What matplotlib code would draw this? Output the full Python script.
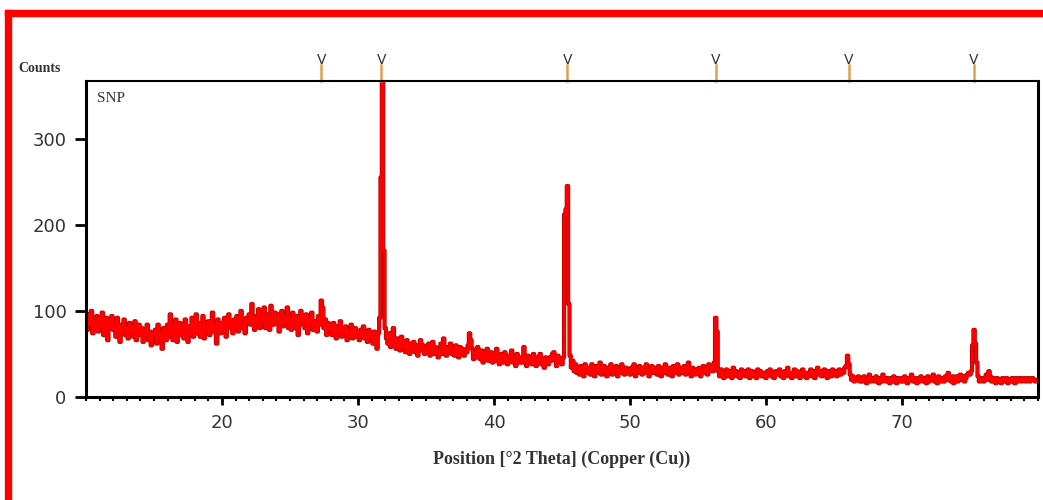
import numpy as np
import matplotlib
matplotlib.use("Agg")
import matplotlib.pyplot as plt
from matplotlib.patches import Rectangle
from matplotlib.ticker import MultipleLocator

# counts, 0.1 deg step, one row = 1 deg (10.0 .. 10.9 etc)
counts = [
    92, 78, 96, 84, 100, 74, 88, 80, 94, 76,     # 10
    90, 84, 98, 72, 86, 92, 66, 88, 80, 94,      # 11
    78, 86, 70, 92, 82, 64, 84, 76, 90, 72,      # 12
    80, 68, 86, 74, 82, 70, 88, 66, 78, 84,      # 13
    72, 80, 64, 78, 70, 84, 66, 76, 60, 74,      # 14
    70, 78, 62, 84, 68, 74, 56, 80, 72, 66,      # 15
    84, 70, 96, 74, 66, 82, 90, 64, 78, 86,      # 16
    72, 84, 68, 90, 76, 64, 82, 74, 92, 70,      # 17
    80, 96, 74, 86, 70, 82, 94, 68, 84, 76,      # 18
    88, 72, 82, 98, 76, 84, 62, 90, 80, 74,      # 19
    86, 78, 92, 70, 84, 96, 80, 88, 74, 90,      # 20
    82, 94, 76, 88, 100, 80, 90, 74, 92, 86,     # 21
    96, 84, 108, 88, 78, 94, 86, 102, 80, 92,    # 22
    88, 104, 80, 96, 90, 78, 106, 92, 84, 98,    # 23
    86, 96, 76, 92, 100, 82, 94, 88, 104, 80,    # 24
    90, 78, 98, 86, 80, 94, 72, 88, 100, 84,     # 25
    92, 80, 96, 74, 90, 84, 98, 78, 88, 82,      # 26
    76, 94, 84, 112, 104, 80, 90, 72, 86, 80,    # 27
    84, 72, 86, 78, 68, 82, 76, 88, 70, 80,      # 28
    74, 82, 66, 78, 72, 84, 68, 76, 80, 70,      # 29
    76, 66, 78, 72, 82, 68, 74, 64, 78, 70,      # 30
    72, 62, 76, 68, 56, 74, 92, 255, 380, 170,   # 31
    80, 68, 62, 74, 58, 66, 80, 60, 56, 68,      # 32
    62, 54, 70, 58, 64, 52, 66, 58, 50, 62,      # 33
    56, 64, 52, 60, 48, 58, 66, 54, 60, 50,      # 34
    58, 52, 62, 48, 56, 64, 50, 58, 54, 46,      # 35
    54, 62, 50, 68, 56, 48, 58, 52, 62, 50,      # 36
    56, 48, 60, 52, 46, 58, 50, 56, 48, 54,      # 37
    52, 60, 74, 66, 56, 44, 52, 46, 58, 50,      # 38
    44, 54, 40, 50, 46, 56, 42, 48, 52, 40,      # 39
    48, 42, 56, 44, 38, 50, 46, 40, 52, 44,      # 40
    38, 48, 42, 54, 40, 46, 36, 50, 44, 40,      # 41
    46, 40, 58, 42, 36, 48, 40, 44, 38, 50,      # 42
    42, 36, 46, 40, 50, 38, 44, 34, 46, 40,      # 43
    38, 46, 42, 50, 52, 44, 36, 48, 40, 44,      # 44
    38, 46, 212, 218, 245, 108, 48, 34, 42, 30,  # 45
    38, 28, 34, 26, 36, 30, 24, 38, 32, 28,      # 46
    34, 26, 38, 30, 24, 36, 28, 32, 40, 26,      # 47
    32, 36, 28, 24, 34, 30, 38, 26, 32, 28,      # 48
    36, 24, 32, 28, 38, 30, 26, 34, 28, 32,      # 49
    26, 34, 30, 38, 24, 32, 28, 36, 30, 26,      # 50
    34, 28, 38, 30, 24, 32, 36, 28, 34, 30,      # 51
    26, 36, 30, 24, 34, 28, 38, 30, 26, 34,      # 52
    30, 24, 36, 28, 32, 38, 26, 30, 34, 28,      # 53
    36, 26, 32, 40, 28, 24, 34, 30, 26, 32,      # 54
    28, 34, 24, 30, 36, 28, 32, 26, 38, 30,      # 55
    34, 30, 40, 92, 76, 30, 24, 32, 28, 22,      # 56
    26, 32, 24, 30, 28, 22, 34, 26, 30, 24,      # 57
    28, 22, 32, 26, 30, 24, 28, 32, 22, 28,      # 58
    30, 24, 28, 22, 32, 26, 30, 24, 28, 26,      # 59
    22, 30, 26, 32, 24, 28, 22, 30, 26, 28,      # 60
    32, 24, 28, 22, 30, 26, 34, 24, 28, 22,      # 61
    28, 32, 24, 30, 26, 22, 28, 32, 24, 28,      # 62
    22, 28, 26, 32, 24, 30, 22, 28, 34, 26,      # 63
    30, 24, 28, 32, 26, 22, 30, 28, 24, 32,      # 64
    26, 30, 24, 28, 32, 26, 30, 28, 34, 36,      # 65
    48, 38, 26, 20, 24, 18, 22, 20, 24, 18,      # 66
    22, 18, 24, 20, 16, 22, 26, 18, 22, 20,      # 67
    18, 24, 20, 16, 22, 18, 26, 20, 18, 22,      # 68
    20, 16, 22, 18, 24, 20, 16, 22, 20, 18,      # 69
    22, 18, 24, 20, 16, 22, 20, 26, 18, 22,      # 70
    20, 16, 22, 18, 24, 20, 18, 22, 16, 24,      # 71
    18, 22, 20, 26, 18, 22, 16, 24, 20, 18,      # 72
    22, 18, 24, 20, 28, 22, 18, 24, 16, 22,      # 73
    24, 18, 22, 26, 20, 24, 18, 22, 26, 28,      # 74
    26, 30, 60, 78, 62, 40, 24, 18, 22, 20,      # 75
    18, 22, 26, 20, 30, 24, 18, 22, 20, 16,      # 76
    22, 18, 20, 16, 22, 20, 18, 22, 16, 20,      # 77
    18, 22, 20, 16, 22, 18, 20, 22, 18, 20,      # 78
    22, 18, 20, 22, 18, 20, 22, 20, 18, 20,      # 79
    20,
]
# scan positions (deg 2theta), 10..80
two_theta = np.linspace(10.0, 80.0, len(counts))

# reference peak markers along the top
ref_peaks = [27.3, 31.7, 45.4, 56.3, 66.1, 75.3]

xticks = [20, 30, 40, 50, 60, 70]
yticks = [0, 100, 200, 300]

fig = plt.figure(figsize=(10.43, 5.0), dpi=100)
ax = fig.add_axes([0.0825, 0.206, 0.9127, 0.632])

ax.plot(two_theta, counts, color="#b00000", lw=3.0, drawstyle="steps-mid")
ax.plot(two_theta, counts, color="#ff0000", lw=2.0, drawstyle="steps-mid")

ax.set_xlim(10, 80)
ax.set_ylim(0, 367)
ax.set_xticks(xticks)
ax.set_yticks(yticks)
ax.xaxis.set_minor_locator(MultipleLocator(1))
ax.tick_params(axis="both", which="major", direction="out", length=6, width=2,
               labelsize=13, labelcolor="#333333", pad=6)
ax.tick_params(axis="x", which="minor", direction="out", length=3, width=1.5)
ax.tick_params(axis="y", which="major", length=8)

for s in ["left", "bottom", "right"]:
    ax.spines[s].set_linewidth(2.2)
ax.spines["top"].set_linewidth(1.5)

# peak markers above the frame
trans = ax.get_xaxis_transform()
for p in ref_peaks:
    ax.plot([p, p], [1.0, 1.05], color="#e0a050", lw=1.8, transform=trans, clip_on=False)
    ax.text(p, 1.045, "V", transform=trans, ha="center", va="bottom",
            fontsize=10, color="#333333", clip_on=False)

ax.text(0.012, 0.965, "SNP", transform=ax.transAxes, ha="left", va="top",
        fontsize=11, family="Liberation Serif", color="#333333")
fig.text(0.018, 0.85, "Counts", ha="left", va="bottom", fontsize=10,
         family="Liberation Serif", weight="bold", color="#333333")
ax.set_xlabel("Position [°2 Theta] (Copper (Cu))", fontsize=13,
              family="Liberation Serif", weight="bold", color="#333333", labelpad=14)

# red frame around picture
fig.patches.append(Rectangle((0.005, 0.968), 0.995, 0.012, transform=fig.transFigure,
                             color="red", zorder=10))
fig.patches.append(Rectangle((0.005, 0.0), 0.0058, 0.98, transform=fig.transFigure,
                             color="red", zorder=10))

fig.savefig("out.png", dpi=100)
